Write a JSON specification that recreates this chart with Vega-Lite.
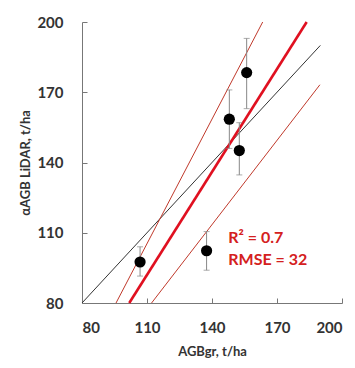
{
  "$schema": "https://vega.github.io/schema/vega-lite/v6.json",
  "width": 260,
  "height": 281,
  "autosize": {"type": "none"},
  "padding": {"left": 82, "top": 22, "right": 13, "bottom": 65},
  "background": "white",
  "config": {
    "view": {"stroke": null},
    "axis": {
      "labelFont": "Lato", "labelFontWeight": "bold", "labelFontSize": 15, "labelColor": "#333",
      "titleFont": "Lato", "titleFontWeight": "bold", "titleFontSize": 13, "titleColor": "#333",
      "domainColor": "#777", "tickColor": "#777", "grid": false, "tickSize": -5
    }
  },
  "datasets": {
    "lines": [
      {"line": "1:1", "x": 80, "y": 80},
      {"line": "1:1", "x": 190, "y": 190},
      {"line": "upper", "x": 95.7, "y": 80},
      {"line": "upper", "x": 163.4, "y": 200},
      {"line": "lower", "x": 112.1, "y": 80},
      {"line": "lower", "x": 189.8, "y": 173.2}
    ],
    "fit": [
      {"x": 101.8, "y": 80},
      {"x": 183.7, "y": 200}
    ],
    "pts": [
      {"x": 106.8, "y": 97.5, "lo": 91.5, "hi": 104},
      {"x": 137.5, "y": 102.3, "lo": 94, "hi": 110.5},
      {"x": 148, "y": 158.5, "lo": 146, "hi": 171},
      {"x": 152.6, "y": 145.1, "lo": 134.7, "hi": 157},
      {"x": 156, "y": 178.4, "lo": 163, "hi": 193}
    ],
    "labels": [
      {"label": "R² = 0.7", "x": 147.5, "y": 107.8},
      {"label": "RMSE = 32", "x": 147.5, "y": 98.4}
    ]
  },
  "encoding": {
    "x": {"field": "x", "type": "quantitative",
          "scale": {"domain": [80, 200], "nice": false, "zero": false},
          "axis": {"values": [80, 110, 140, 170, 200], "labelPadding": 22, "titlePadding": 10},
          "title": "AGBgr, t/ha"},
    "y": {"field": "y", "type": "quantitative",
          "scale": {"domain": [80, 200], "nice": false, "zero": false},
          "axis": {"values": [80, 110, 140, 170, 200], "labelPadding": 24, "titlePadding": 4},
          "title": "αAGB LiDAR, t/ha"}
  },
  "layer": [
    {
      "data": {"name": "lines"},
      "mark": {"type": "line", "strokeWidth": 1},
      "encoding": {
        "detail": {"field": "line"},
        "color": {"field": "line", "type": "nominal", "legend": null,
                  "scale": {"domain": ["1:1", "upper", "lower"], "range": ["#333333", "#c0392b", "#c0392b"]}}
      }
    },
    {
      "data": {"name": "fit"},
      "mark": {"type": "line", "strokeWidth": 2.6, "color": "#e01020"},
      "encoding": {}
    },
    {
      "data": {"name": "pts"},
      "mark": {"type": "errorbar", "ticks": {"size": 6, "color": "#888"}, "rule": {"color": "#888"}},
      "encoding": {
        "y": {"field": "lo", "type": "quantitative", "title": "αAGB LiDAR, t/ha"},
        "y2": {"field": "hi"}
      }
    },
    {
      "data": {"name": "pts"},
      "mark": {"type": "point", "filled": true, "color": "black", "opacity": 1, "size": 125}
    },
    {
      "data": {"name": "labels"},
      "mark": {"type": "text", "align": "left", "baseline": "middle", "font": "Lato", "fontWeight": "bold", "fontSize": 16, "color": "#d42020"},
      "encoding": {
        "text": {"field": "label"}
      }
    }
  ]
}
